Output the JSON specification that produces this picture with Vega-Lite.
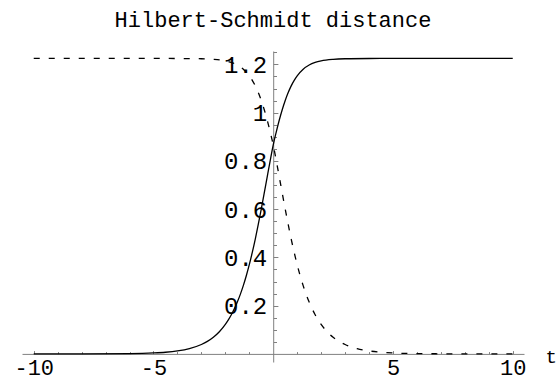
{
  "$schema": "https://vega.github.io/schema/vega-lite/v6.json",
  "width": 502,
  "height": 311,
  "autosize": {"type": "none"},
  "padding": {"left": 22, "top": 51, "right": 36, "bottom": 19},
  "background": "white",
  "title": {"text": "Hilbert-Schmidt distance", "font": "Liberation Mono", "fontSize": 22, "fontWeight": "normal", "color": "#000000", "anchor": "middle", "frame": "group", "baseline": "alphabetic", "offset": 2},
  "config": {"view": {"stroke": null}, "axis": {"grid": false}},
  "datasets": {
    "solid": [
      {"t": -10, "d": 0}, {"t": -8, "d": 0.0001}, {"t": -6, "d": 0.0012}, {"t": -5, "d": 0.0039}, {"t": -4.5, "d": 0.0069},
      {"t": -4, "d": 0.0123}, {"t": -3.5, "d": 0.0219}, {"t": -3, "d": 0.0389}, {"t": -2.75, "d": 0.0518}, {"t": -2.5, "d": 0.069},
      {"t": -2.25, "d": 0.0919}, {"t": -2, "d": 0.1222}, {"t": -1.875, "d": 0.1408}, {"t": -1.75, "d": 0.1622}, {"t": -1.625, "d": 0.1868},
      {"t": -1.5, "d": 0.2148}, {"t": -1.375, "d": 0.2468}, {"t": -1.25, "d": 0.283}, {"t": -1.125, "d": 0.3239}, {"t": -1, "d": 0.3697},
      {"t": -0.875, "d": 0.4205}, {"t": -0.75, "d": 0.4762}, {"t": -0.625, "d": 0.5365}, {"t": -0.5, "d": 0.6006}, {"t": -0.375, "d": 0.6672},
      {"t": -0.25, "d": 0.7349}, {"t": -0.125, "d": 0.8018}, {"t": 0, "d": 0.866}, {"t": 0.125, "d": 0.9195}, {"t": 0.25, "d": 0.9685},
      {"t": 0.375, "d": 1.0123}, {"t": 0.5, "d": 1.0506}, {"t": 0.625, "d": 1.0834}, {"t": 0.75, "d": 1.1111}, {"t": 0.875, "d": 1.134},
      {"t": 1, "d": 1.1528}, {"t": 1.25, "d": 1.1801}, {"t": 1.5, "d": 1.1974}, {"t": 1.75, "d": 1.2081}, {"t": 2, "d": 1.2147},
      {"t": 2.5, "d": 1.2211}, {"t": 3, "d": 1.2234}, {"t": 4, "d": 1.2245}, {"t": 5, "d": 1.2247}, {"t": 6, "d": 1.2247},
      {"t": 8, "d": 1.2247}, {"t": 10, "d": 1.2247}
    ],
    "dashed": [
      {"t": -10, "d": 1.2247}, {"t": -8, "d": 1.2247}, {"t": -6, "d": 1.2247}, {"t": -5, "d": 1.2247}, {"t": -4, "d": 1.2245},
      {"t": -3, "d": 1.2234}, {"t": -2.5, "d": 1.2211}, {"t": -2, "d": 1.2147}, {"t": -1.75, "d": 1.2081}, {"t": -1.5, "d": 1.1974},
      {"t": -1.25, "d": 1.1801}, {"t": -1, "d": 1.1528}, {"t": -0.875, "d": 1.134}, {"t": -0.75, "d": 1.1111}, {"t": -0.625, "d": 1.0834},
      {"t": -0.5, "d": 1.0506}, {"t": -0.375, "d": 1.0123}, {"t": -0.25, "d": 0.9685}, {"t": -0.125, "d": 0.9195}, {"t": 0, "d": 0.866},
      {"t": 0.125, "d": 0.8018}, {"t": 0.25, "d": 0.7349}, {"t": 0.375, "d": 0.6672}, {"t": 0.5, "d": 0.6006}, {"t": 0.625, "d": 0.5365},
      {"t": 0.75, "d": 0.4762}, {"t": 0.875, "d": 0.4205}, {"t": 1, "d": 0.3697}, {"t": 1.125, "d": 0.3239}, {"t": 1.25, "d": 0.283},
      {"t": 1.375, "d": 0.2468}, {"t": 1.5, "d": 0.2148}, {"t": 1.625, "d": 0.1868}, {"t": 1.75, "d": 0.1622}, {"t": 1.875, "d": 0.1408},
      {"t": 2, "d": 0.1222}, {"t": 2.25, "d": 0.0919}, {"t": 2.5, "d": 0.069}, {"t": 2.75, "d": 0.0518}, {"t": 3, "d": 0.0389},
      {"t": 3.5, "d": 0.0219}, {"t": 4, "d": 0.0123}, {"t": 4.5, "d": 0.0069}, {"t": 5, "d": 0.0039}, {"t": 6, "d": 0.0012},
      {"t": 8, "d": 0.0001}, {"t": 10, "d": 0}
    ]
  },
  "layer": [
    {
      "data": {"name": "solid"},
      "mark": {"type": "line", "color": "#000000", "strokeWidth": 1.3, "interpolate": "monotone", "clip": true},
      "encoding": {
        "x": {"field": "t", "type": "quantitative", "scale": {"domain": [-10.49, 10.47], "nice": false, "zero": false},
          "axis": {"orient": "bottom", "offset": -8.1, "values": [-10, -5, 5, 10], "labelExpr": "toString(datum.value)",
            "domainColor": "#808080", "domainWidth": 1, "tickColor": "#808080", "tickWidth": 1, "tickSize": -3.3,
            "labelFont": "Liberation Mono", "labelFontSize": 22, "labelColor": "#000000", "labelPadding": 24.2, "labelBaseline": "alphabetic",
            "labelFlush": false, "labelOverlap": false,
            "title": "t", "titleFont": "Liberation Mono", "titleFontSize": 19, "titleFontWeight": "normal", "titleColor": "#000000",
            "titleX": 523, "titleY": 8.4, "titleAlign": "left", "titleBaseline": "alphabetic", "titleAngle": 0}},
        "y": {"field": "d", "type": "quantitative", "scale": {"domain": [-0.0336, 1.2556], "nice": false, "zero": false},
          "axis": {"orient": "left", "offset": -251.2, "values": [0.2, 0.4, 0.6, 0.8, 1, 1.2], "labelExpr": "toString(datum.value)",
            "domainColor": "#808080", "domainWidth": 1, "tickColor": "#808080", "tickWidth": 1, "tickSize": -4.7,
            "labelFont": "Liberation Mono", "labelFontSize": 24, "labelColor": "#000000", "labelPadding": 11.2,
            "labelFlush": false, "labelOverlap": false, "labelOffset": 1, "title": null}}
      }
    },
    {
      "data": {"name": "dashed"},
      "mark": {"type": "line", "color": "#000000", "strokeWidth": 1.3, "strokeDash": [6, 9], "interpolate": "monotone", "clip": true},
      "encoding": {
        "x": {"field": "t", "type": "quantitative",
          "axis": {"orient": "bottom", "offset": -8.1, "values": [-9, -8, -7, -6, -4, -3, -2, -1, 1, 2, 3, 4, 6, 7, 8, 9],
            "domain": false, "labels": false, "tickColor": "#808080", "tickWidth": 1, "tickSize": -2.3, "title": null}},
        "y": {"field": "d", "type": "quantitative",
          "axis": {"orient": "left", "offset": -251.2, "values": [0.05, 0.1, 0.15, 0.25, 0.3, 0.35, 0.45, 0.5, 0.55, 0.65, 0.7, 0.75, 0.85, 0.9, 0.95, 1.05, 1.1, 1.15, 1.25],
            "domain": false, "labels": false, "tickColor": "#808080", "tickWidth": 1, "tickSize": -3.3, "title": null}}
      }
    }
  ],
  "resolve": {"axis": {"x": "independent", "y": "independent"}}
}
